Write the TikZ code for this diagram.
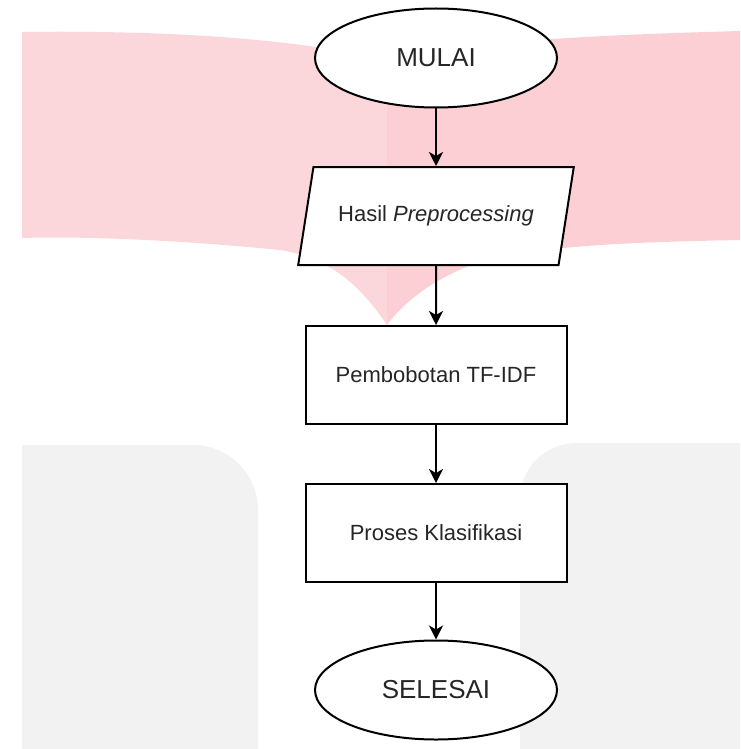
\documentclass[tikz,border=0pt]{standalone}
\usepackage{fontspec}
\setmainfont{Liberation Sans}
\usetikzlibrary{shapes.geometric,arrows.meta}

\definecolor{pinkleft}{RGB}{251,214,218}
\definecolor{pinkright}{RGB}{252,207,212}
\definecolor{greyback}{RGB}{242,242,242}
\definecolor{textgrey}{RGB}{38,38,38}

\tikzset{
  terminal/.style={ellipse, draw, fill=white, line width=1pt, inner sep=0pt,
    minimum width=121pt, minimum height=49.5pt,
    font=\fontsize{13}{15}\selectfont, text=textgrey},
  prosesbox/.style={rectangle, draw, fill=white, line width=1pt,
    minimum width=130.5pt, minimum height=49pt,
    font=\fontsize{11}{13}\selectfont, text=textgrey},
  databox/.style={trapezium, trapezium left angle=69, trapezium right angle=111,
    trapezium stretches=true, draw, fill=white, line width=1pt,
    minimum width=138pt, minimum height=49pt,
    font=\fontsize{11}{13}\selectfont, text=textgrey},
  alur/.style={-{Stealth[length=7pt,width=7pt,inset=2pt]}, line width=1pt}
}

\begin{document}
\begin{tikzpicture}[x=0.5pt, y=-0.5pt]

\useasboundingbox (0,0) rectangle (740,749);

% Watermark in the background
\fill[pinkleft] (22,32) .. controls (180,30) and (300,40) .. (387,60) -- (387,325)
  .. controls (360,285) and (330,258) .. (280,250)
  .. controls (180,240) and (80,236) .. (22,238) -- cycle;
\fill[pinkright] (387,60) .. controls (480,40) and (600,35) .. (740,31) -- (740,240)
  .. controls (640,242) and (540,245) .. (480,262)
  .. controls (440,275) and (405,300) .. (387,325) -- cycle;
\fill[greyback] (22,749) -- (22,445) -- (193,445)
  .. controls (229,445) and (258,474) .. (258,510) -- (258,749) -- cycle;
\fill[greyback] (740,749) -- (520,749) -- (520,500)
  .. controls (520,468) and (545,443) .. (577,443) -- (740,443) -- cycle;

% Flowchart
\node[terminal] (mulai) at (436,58) {MULAI};
\node[databox] (hasil) at (436,216) {Hasil \textit{Preprocessing}};
\node[prosesbox] (tfidf) at (436,375) {Pembobotan TF-IDF};
\node[prosesbox] (klasifikasi) at (436,533) {Proses Klasifikasi};
\node[terminal] (selesai) at (436,690) {SELESAI};

\draw[alur] (mulai) -- (hasil);
\draw[alur] (hasil) -- (tfidf);
\draw[alur] (tfidf) -- (klasifikasi);
\draw[alur] (klasifikasi) -- (selesai);
\end{tikzpicture}
\end{document}
